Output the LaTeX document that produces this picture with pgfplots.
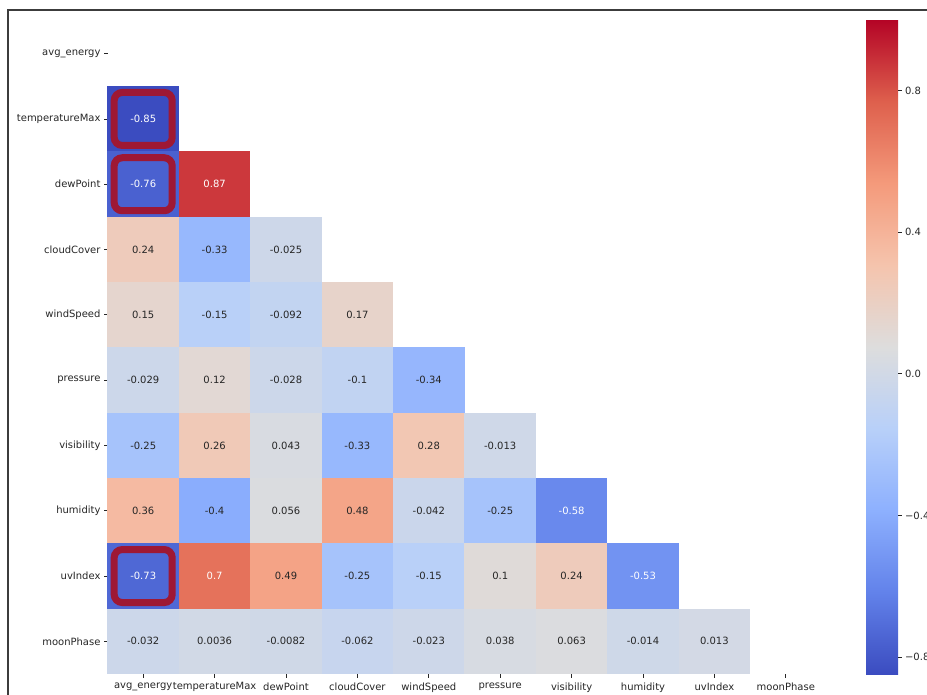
\documentclass[border=0pt]{standalone}
\usepackage{pgfplots}
\usepackage{pgfplotstable}
\pgfplotsset{compat=1.18}
\usepackage{fontspec}
\setmainfont{DejaVu Sans}

\definecolor{darktext}{RGB}{38,38,38}
\definecolor{hlred}{RGB}{158,24,52}
\definecolor{framegray}{RGB}{60,60,60}

% filled heatmap cell (714pt / 10 columns, 653pt / 10 rows)
\pgfdeclareplotmark{cell}{%
  \pgfpathrectangle{\pgfpoint{-35.8pt}{-32.75pt}}{\pgfpoint{71.6pt}{65.5pt}}%
  \pgfusepathqfill}
% rounded highlight box
\pgfdeclareplotmark{hlbox}{%
  \draw[hlred, line width=7pt, rounded corners=8pt]
    (-29pt,-26.5pt) rectangle (29pt,26.5pt);}

% lower triangle of the correlation matrix: c = column, r = row (0 = avg_energy)
\pgfplotstableread{
c r v
0 1 -0.85
0 2 -0.76
1 2 0.87
0 3 0.24
1 3 -0.33
2 3 -0.025
0 4 0.15
1 4 -0.15
2 4 -0.092
3 4 0.17
0 5 -0.029
1 5 0.12
2 5 -0.028
3 5 -0.1
4 5 -0.34
0 6 -0.25
1 6 0.26
2 6 0.043
3 6 -0.33
4 6 0.28
5 6 -0.013
0 7 0.36
1 7 -0.4
2 7 0.056
3 7 0.48
4 7 -0.042
5 7 -0.25
6 7 -0.58
0 8 -0.73
1 8 0.7
2 8 0.49
3 8 -0.25
4 8 -0.15
5 8 0.1
6 8 0.24
7 8 -0.53
0 9 -0.032
1 9 0.0036
2 9 -0.0082
3 9 -0.062
4 9 -0.023
5 9 0.038
6 9 0.063
7 9 -0.014
8 9 0.013
}\corrtable

% highlighted cells
\pgfplotstableread{
c r
0 1
0 2
0 8
}\hltable

\begin{document}
\begin{tikzpicture}
\begin{axis}[
  at={(107.5pt,-674pt)}, anchor=south west,
  scale only axis, width=714pt, height=653pt,
  xmin=-0.5, xmax=9.5, ymin=-0.5, ymax=9.5,
  xtick={0,...,9}, ytick={0,...,9},
  xticklabels={avg\_energy,temperatureMax,dewPoint,cloudCover,windSpeed,pressure,visibility,humidity,uvIndex,moonPhase},
  yticklabels={moonPhase,uvIndex,humidity,visibility,pressure,windSpeed,cloudCover,dewPoint,temperatureMax,avg\_energy},
  xtick pos=bottom, ytick pos=left,
  tick align=outside, major tick length=3.5pt,
  tick style={draw=darktext, line width=0.8pt},
  axis line style={draw=none},
  ticklabel style={font=\fontsize{10}{12}\selectfont, text=darktext},
  xticklabel style={yshift=-1.5pt},
  colormap={coolwarm}{rgb255=(59,76,192) rgb255=(98,130,234) rgb255=(141,176,254) rgb255=(184,208,249) rgb255=(221,221,221) rgb255=(245,196,173) rgb255=(244,154,123) rgb255=(222,96,77) rgb255=(180,4,38)},
  point meta min=-0.848, point meta max=1,
  colorbar,
  colorbar/width=32pt,
  colorbar style={
    scale only axis, width=32pt, height=654pt,
    at={(parent axis.north east)}, anchor=north west,
    xshift=36pt, yshift=1pt,
    ytick={-0.8,-0.4,0,0.4,0.8},
    yticklabels={−0.8,−0.4,0.0,0.4,0.8},
    ytick pos=right, yticklabel pos=right,
    tick align=outside, major tick length=3.5pt,
    tick style={draw=darktext, line width=0.8pt},
    axis line style={draw=none},
    yticklabel style={font=\fontsize{10}{12}\selectfont, text=darktext, anchor=west, xshift=0pt},
  },
]
% coloured cells
\addplot[scatter, only marks, mark=cell, point meta=\thisrow{v}]
  table[x=c, y expr=9-\thisrow{r}] {\corrtable};
% cell annotations
\addplot[only marks, mark=none, point meta=explicit symbolic,
  visualization depends on={\thisrow{v} \as \vv},
  nodes near coords={\pgfmathparse{abs(\vv)>0.5}\ifdim\pgfmathresult pt>0.5pt\color{white}\fi\pgfplotspointmeta},
  every node near coord/.append style={anchor=center, font=\fontsize{10}{12}\selectfont, text=darktext}]
  table[x=c, y expr=9-\thisrow{r}, meta=v] {\corrtable};
% highlight boxes
\addplot[only marks, mark=hlbox]
  table[x=c, y expr=9-\thisrow{r}] {\hltable};
\end{axis}
\draw[line width=1.5pt, framegray] (8pt,-695pt) -- (8pt,-10pt) -- (927pt,-10pt);
\pgfresetboundingbox
\useasboundingbox (0,0) rectangle (927pt,-695pt);
\end{tikzpicture}
\end{document}
